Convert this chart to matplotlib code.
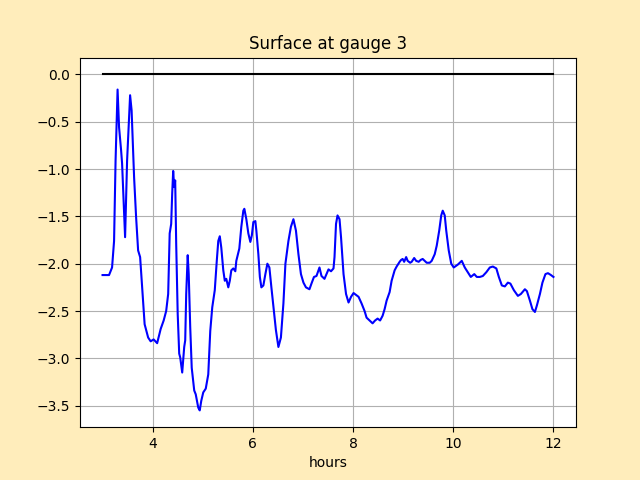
import numpy as np
import matplotlib
matplotlib.use("Agg")
import matplotlib.pyplot as plt

# surface elevation at gauge 3
hours = [3.00, 3.13, 3.19, 3.23, 3.26, 3.30, 3.33, 3.37, 3.39, 3.45, 3.49, 3.55, 3.58,
         3.63, 3.67, 3.71, 3.75, 3.79, 3.84, 3.91, 3.96, 4.02, 4.09, 4.16, 4.22, 4.27,
         4.31, 4.34, 4.37, 4.39, 4.41, 4.43, 4.45, 4.47, 4.50, 4.53, 4.55, 4.59, 4.63,
         4.65, 4.67, 4.70, 4.72, 4.75, 4.78, 4.83, 4.86, 4.91, 4.94, 4.97, 5.01, 5.06,
         5.11, 5.15, 5.19, 5.24, 5.28, 5.31, 5.34, 5.37, 5.41, 5.44, 5.47, 5.51, 5.54,
         5.57, 5.61, 5.65, 5.67, 5.73, 5.77, 5.81, 5.83, 5.87, 5.91, 5.95, 5.98, 6.01,
         6.05, 6.07, 6.11, 6.14, 6.17, 6.21, 6.25, 6.29, 6.33, 6.37, 6.42, 6.46, 6.51,
         6.56, 6.61, 6.65, 6.71, 6.76, 6.81, 6.86, 6.91, 6.96, 7.01, 7.06, 7.13, 7.17,
         7.22, 7.27, 7.33, 7.37, 7.43, 7.47, 7.51, 7.56, 7.61, 7.63, 7.66, 7.69, 7.73,
         7.76, 7.81, 7.86, 7.91, 7.96, 8.01, 8.06, 8.11, 8.17, 8.23, 8.27, 8.33, 8.39,
         8.44, 8.49, 8.54, 8.59, 8.63, 8.67, 8.73, 8.77, 8.83, 8.87, 8.93, 8.96, 8.99,
         9.02, 9.06, 9.09, 9.14, 9.17, 9.22, 9.26, 9.31, 9.35, 9.39, 9.43, 9.47, 9.53,
         9.57, 9.63, 9.67, 9.72, 9.76, 9.79, 9.83, 9.86, 9.91, 9.96, 10.01, 10.09, 10.17,
         10.23, 10.29, 10.35, 10.42, 10.47, 10.53, 10.59, 10.66, 10.73, 10.79, 10.86,
         10.91, 10.97, 11.03, 11.09, 11.14, 11.21, 11.29, 11.35, 11.43, 11.47, 11.53,
         11.58, 11.63, 11.67, 11.73, 11.78, 11.84, 11.89, 11.95, 12.00]
surface = [-2.12, -2.12, -2.04, -1.76, -0.91, -0.16, -0.56, -0.80, -0.94, -1.72, -0.91,
           -0.22, -0.38, -1.09, -1.51, -1.86, -1.93, -2.25, -2.64, -2.78, -2.82, -2.80,
           -2.84, -2.69, -2.60, -2.50, -2.32, -1.68, -1.58, -1.26, -1.02, -1.19, -1.12,
           -1.79, -2.53, -2.95, -2.99, -3.15, -2.88, -2.81, -2.32, -1.91, -2.11, -2.67,
           -3.10, -3.34, -3.38, -3.52, -3.55, -3.45, -3.36, -3.32, -3.17, -2.71, -2.46,
           -2.28, -1.97, -1.76, -1.71, -1.83, -2.07, -2.18, -2.16, -2.25, -2.18, -2.07,
           -2.05, -2.08, -1.97, -1.84, -1.61, -1.44, -1.42, -1.53, -1.68, -1.77, -1.70,
           -1.56, -1.55, -1.65, -1.90, -2.14, -2.25, -2.23, -2.11, -2.00, -2.04, -2.25,
           -2.50, -2.70, -2.88, -2.78, -2.42, -2.00, -1.76, -1.61, -1.53, -1.65, -1.90,
           -2.11, -2.20, -2.25, -2.27, -2.21, -2.14, -2.13, -2.04, -2.13, -2.16, -2.11,
           -2.06, -2.08, -2.05, -1.93, -1.58, -1.49, -1.53, -1.72, -2.11, -2.32, -2.41,
           -2.35, -2.31, -2.33, -2.35, -2.42, -2.50, -2.57, -2.60, -2.63, -2.60, -2.58,
           -2.60, -2.55, -2.48, -2.39, -2.30, -2.18, -2.07, -2.03, -1.98, -1.96, -1.95,
           -1.98, -1.93, -1.97, -1.99, -1.98, -1.94, -1.97, -1.98, -1.96, -1.95, -1.97,
           -1.99, -1.99, -1.97, -1.90, -1.81, -1.65, -1.49, -1.44, -1.49, -1.65, -1.86,
           -2.00, -2.04, -2.01, -1.97, -2.04, -2.09, -2.14, -2.11, -2.14, -2.14, -2.13,
           -2.09, -2.04, -2.03, -2.05, -2.14, -2.23, -2.24, -2.20, -2.21, -2.28, -2.34,
           -2.32, -2.27, -2.29, -2.39, -2.48, -2.51, -2.44, -2.32, -2.20, -2.11, -2.10,
           -2.12, -2.14]

ref_hours = [3.0, 12.0]
ref_level = [0.0, 0.0]

fig = plt.figure(figsize=(6.4, 4.8), dpi=100, facecolor="#ffedbb")
ax = fig.add_subplot(111)
ax.plot(hours, surface, color="blue", linewidth=1.5)
ax.plot(ref_hours, ref_level, color="black", linewidth=1.5)
ax.set_title("Surface at gauge 3")
ax.set_xlabel("hours")
ax.grid(True, color="#b0b0b0")

fig.savefig("out.png", facecolor=fig.get_facecolor())
